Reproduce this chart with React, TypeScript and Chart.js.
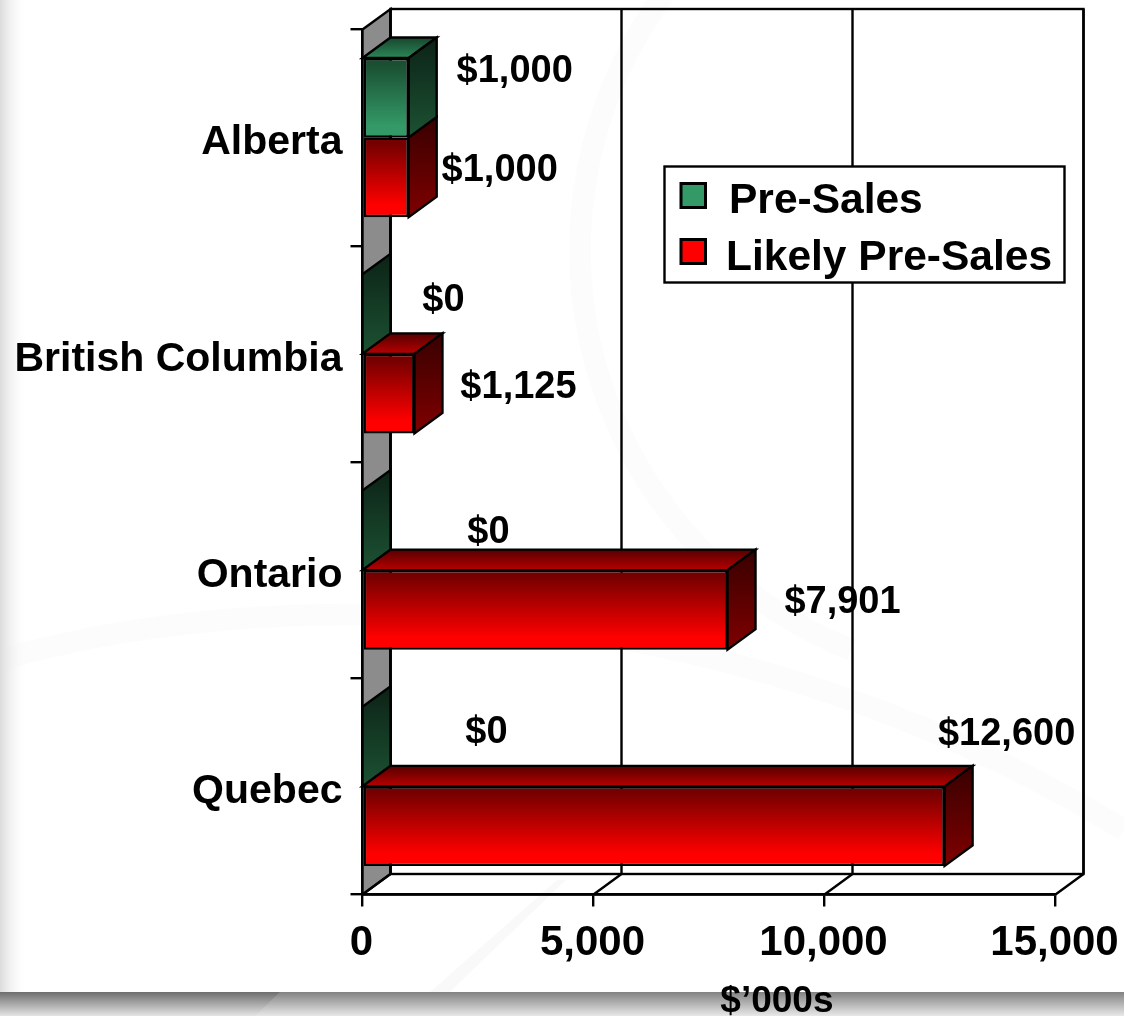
import React, { useEffect, useRef } from "react";
import { Chart, registerables } from "chart.js";

Chart.register(...registerables);

const FONT = '"Liberation Sans", Arial, sans-serif';

const categories = ["Alberta", "British Columbia", "Ontario", "Quebec"];
const preSales = [1000, 0, 0, 0];
const likelyPreSales = [1000, 1125, 7901, 12600];
const seriesNames = ["Pre-Sales", "Likely Pre-Sales"];
const xTicks = [0, 5000, 10000, 15000];
const axisTitle = "$\u2019000s";

// Value label nudges, relative to the bar end and bar centre
const labelNudge = [
  [[106, -26], [81, -14], [126, 2], [124, -14]],
  [[91, -7], [104, -6], [115, -7], [62, -92]],
];

const DX = 28;
const DY = -20.5;
const money = (v: number) => "$" + v.toLocaleString("en-US");

const palettes = [
  {
    front: ["#1a4f32", "#339966"],
    top: ["#17472d", "#2c8558"],
    side: ["#0c2216", "#1c5233"],
    swatch: "#339966",
  },
  {
    front: ["#760000", "#ff0000"],
    top: ["#560000", "#b80000"],
    side: ["#380000", "#800000"],
    swatch: "#ff0000",
  },
];

function vGrad(ctx: CanvasRenderingContext2D, y0: number, y1: number, c: string[], hold = 0, stop = 1) {
  const g = ctx.createLinearGradient(0, y0, 0, y1);
  g.addColorStop(0, c[0]);
  g.addColorStop(hold, c[0]);
  g.addColorStop(stop, c[1]);
  g.addColorStop(1, c[1]);
  return g;
}

function poly(ctx: CanvasRenderingContext2D, pts: number[][], fill?: any) {
  ctx.beginPath();
  pts.forEach((p, i) => (i ? ctx.lineTo(p[0], p[1]) : ctx.moveTo(p[0], p[1])));
  ctx.closePath();
  if (fill) {
    ctx.fillStyle = fill;
    ctx.fill();
  }
  ctx.stroke();
}

const backdrop = {
  id: "backdrop",
  beforeDraw(chart: any) {
    const { ctx, width, height } = chart;
    ctx.save();
    ctx.fillStyle = "#ffffff";
    ctx.fillRect(0, 0, width, height);
    // faint swooshes
    ctx.strokeStyle = "rgba(0,0,0,0.012)";
    ctx.lineWidth = 22;
    ctx.beginPath();
    ctx.arc(1010, 250, 430, Math.PI * 0.62, Math.PI * 1.35);
    ctx.stroke();
    ctx.beginPath();
    ctx.moveTo(0, 660);
    ctx.bezierCurveTo(240, 590, 700, 570, 1124, 830);
    ctx.stroke();
    ctx.fillStyle = "rgba(0,0,0,0.025)";
    ctx.beginPath();
    ctx.moveTo(430, 992);
    ctx.lineTo(557, 880);
    ctx.lineTo(566, 880);
    ctx.lineTo(450, 992);
    ctx.closePath();
    ctx.fill();
    // left edge shade
    const l = ctx.createLinearGradient(0, 0, 28, 0);
    l.addColorStop(0, "#dcdcdc");
    l.addColorStop(1, "rgba(255,255,255,0)");
    ctx.fillStyle = l;
    ctx.fillRect(0, 0, 28, height);
    // bottom band
    const b = ctx.createLinearGradient(0, 992, 0, height);
    b.addColorStop(0, "#6e6e6e");
    b.addColorStop(1, "#e4e4e4");
    ctx.fillStyle = b;
    ctx.fillRect(0, 992, width, height - 992);
    ctx.fillStyle = "rgba(255,255,255,0.14)";
    ctx.beginPath();
    ctx.moveTo(280, 992);
    ctx.lineTo(width, 992);
    ctx.lineTo(width, height);
    ctx.lineTo(255, height);
    ctx.closePath();
    ctx.fill();
    ctx.restore();
  },
};

const depth = {
  id: "depth",
  beforeDatasetsDraw(chart: any) {
    const { ctx, scales, chartArea } = chart;
    const { top, bottom, left, right } = chartArea;
    ctx.save();
    ctx.strokeStyle = "#000";
    ctx.lineWidth = 2.4;
    ctx.lineJoin = "miter";
    // left wall
    poly(ctx, [[left, top], [left + DX, top + DY], [left + DX, bottom + DY], [left, bottom]], "#8c8c8c");
    // back wall frame and floor
    ctx.strokeRect(left + DX, top + DY, right - left, bottom - top);
    ctx.beginPath();
    ctx.moveTo(left, bottom);
    ctx.lineTo(right, bottom);
    xTicks.forEach((v) => {
      const x = scales.x.getPixelForValue(v);
      ctx.moveTo(x, bottom);
      ctx.lineTo(x + DX, bottom + DY);
      ctx.moveTo(x + DX, bottom + DY);
      ctx.lineTo(x + DX, top + DY);
    });
    ctx.stroke();
    // extruded faces
    chart.data.datasets.forEach((_: any, d: number) => {
      const pal = palettes[d];
      chart.getDatasetMeta(d).data.forEach((el: any, i: number) => {
        const h = el.height;
        const y0 = el.y - h / 2;
        const y1 = el.y + h / 2;
        const x0 = left;
        const x1 = el.x;
        // the bar directly above hides the top face when it is as long
        const above = d > 0 ? chart.getDatasetMeta(d - 1).data[i].x : x0;
        if (x1 > x0 + 1 && x1 > above + 1) {
          poly(ctx, [[x0, y0], [x0 + DX, y0 + DY], [x1 + DX, y0 + DY], [x1, y0]], vGrad(ctx, y0 + DY, y0, pal.top));
        }
        poly(ctx, [[x1, y0], [x1 + DX, y0 + DY], [x1 + DX, y1 + DY], [x1, y1]], vGrad(ctx, y0 + DY, y1, pal.side));
      });
    });
    ctx.restore();
  },
  afterDatasetsDraw(chart: any) {
    const { ctx, scales } = chart;
    ctx.save();
    ctx.fillStyle = "#000";
    ctx.textAlign = "center";
    ctx.textBaseline = "middle";
    ctx.font = `bold 38px ${FONT}`;
    chart.data.datasets.forEach((ds: any, d: number) => {
      chart.getDatasetMeta(d).data.forEach((el: any, i: number) => {
        const [nx, ny] = labelNudge[d][i];
        ctx.fillText(money(ds.data[i]), el.x + nx, el.y + ny);
      });
    });
    // axis title
    ctx.font = `bold 37px ${FONT}`;
    ctx.fillText(axisTitle, scales.x.getPixelForValue(8970), 1002);
    // legend
    const lx = 664.5, ly = 166.5, lw = 400, lh = 116;
    ctx.fillStyle = "#fff";
    ctx.strokeStyle = "#000";
    ctx.lineWidth = 2.4;
    ctx.fillRect(lx, ly, lw, lh);
    ctx.strokeRect(lx, ly, lw, lh);
    ctx.font = `bold 42.5px ${FONT}`;
    ctx.textAlign = "left";
    const rows = [
      { sw: 29, tx: 729, ty: 35 },
      { sw: 85, tx: 726, ty: 92 },
    ];
    seriesNames.forEach((name, d) => {
      const r = rows[d];
      ctx.fillStyle = palettes[d].swatch;
      ctx.lineWidth = 3;
      ctx.fillRect(681, ly + r.sw - 12, 24.5, 24);
      ctx.strokeRect(681, ly + r.sw - 12, 24.5, 24);
      ctx.fillStyle = "#000";
      ctx.fillText(name, r.tx, ly + r.ty);
    });
    ctx.restore();
  },
};

function frontFill(d: number) {
  return (c: any) => {
    const chart = c.chart;
    const y = chart.scales?.y;
    const mid = y && c.dataIndex !== undefined ? y.getPixelForValue(c.dataIndex) : NaN;
    if (!Number.isFinite(mid)) return palettes[d].swatch;
    const y0 = d === 0 ? mid - 79.5 : mid;
    const y1 = d === 0 ? mid : mid + 79.5;
    return vGrad(chart.ctx, y0, y1, palettes[d].front, 0.08, 0.85);
  };
}

function noOverflow(s: any) {
  s.paddingLeft = 0;
  s.paddingRight = 0;
  s.paddingTop = 0;
  s.paddingBottom = 0;
}

export default function App() {
  const ref = useRef<HTMLCanvasElement>(null);
  useEffect(() => {
    const chart = new Chart(ref.current!, {
      type: "bar",
      data: {
        labels: categories,
        datasets: [
          { label: seriesNames[0], data: preSales, backgroundColor: frontFill(0) },
          { label: seriesNames[1], data: likelyPreSales, backgroundColor: frontFill(1) },
        ],
      },
      plugins: [backdrop, depth],
      options: {
        indexAxis: "y",
        animation: false,
        responsive: false,
        devicePixelRatio: 1,
        layout: { padding: { left: 0, right: 68.5, top: 29.5, bottom: 0 } },
        datasets: {
          bar: {
            barPercentage: 1,
            categoryPercentage: 159 / 216,
            borderColor: "#000",
            borderWidth: 2.4,
            borderSkipped: false,
          },
        },
        plugins: { legend: { display: false }, tooltip: { enabled: false }, title: { display: false } },
        scales: {
          x: {
            type: "linear",
            min: 0,
            max: 15000,
            afterFit: (s: any) => { s.height = 121.5; noOverflow(s); },
            afterBuildTicks: (s: any) => { s.ticks = xTicks.map((value) => ({ value })); },
            border: { color: "#000", width: 2.4 },
            grid: { drawOnChartArea: false, drawTicks: true, tickLength: 12, color: "#000", lineWidth: 2.4 },
            ticks: {
              color: "#000",
              font: { family: FONT, size: 42, weight: "bold" },
              padding: 12,
              maxRotation: 0,
              labelOffset: -1,
              callback: (v: any) => Number(v).toLocaleString("en-US"),
            },
          },
          y: {
            type: "category",
            afterFit: (s: any) => { s.width = 362.5; noOverflow(s); },
            border: { color: "#000", width: 2.4 },
            grid: { drawOnChartArea: false, drawTicks: true, tickLength: 12, color: "#000", lineWidth: 2.4 },
            ticks: {
              color: "#000",
              font: { family: FONT, size: 41, weight: "bold" },
              padding: 8,
              labelOffset: 5.5,
              autoSkip: false,
            },
          },
        },
      },
    } as any);
    return () => chart.destroy();
  }, []);
  return (
    <canvas
      ref={ref}
      width={1124}
      height={1016}
      style={{ position: "fixed", left: 0, top: 0, width: 1124, height: 1016, display: "block" }}
    />
  );
}
